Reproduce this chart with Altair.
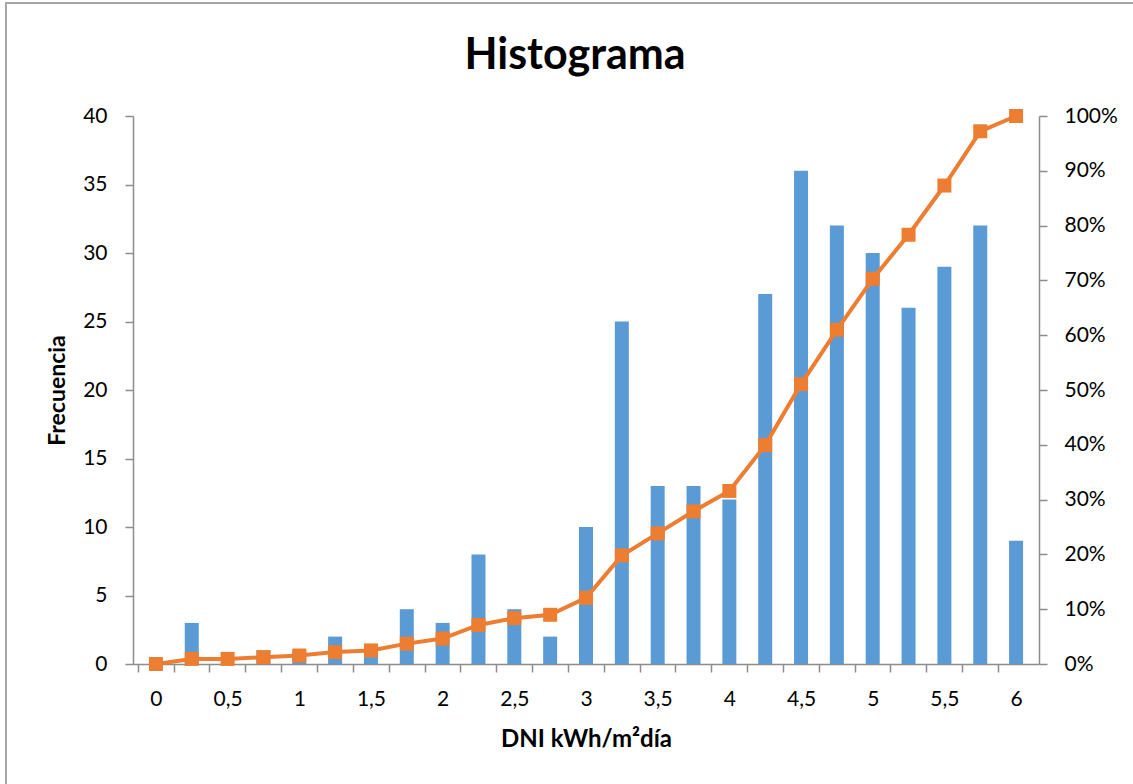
import altair as alt
import pandas as pd

# DNI bin centres (kWh/m2 día)
bins = [0, 0.25, 0.5, 0.75, 1, 1.25, 1.5, 1.75, 2, 2.25, 2.5, 2.75, 3,
        3.25, 3.5, 3.75, 4, 4.25, 4.5, 4.75, 5, 5.25, 5.5, 5.75, 6]
# Frecuencia per bin
freq = [0, 3, 0, 1, 1, 2, 1, 4, 3, 8, 4, 2, 10,
        25, 13, 13, 12, 27, 36, 32, 30, 26, 29, 32, 9]
# % acumulado
cum_pct = [0, 0.93, 0.93, 1.24, 1.55, 2.17, 2.48, 3.72, 4.64, 7.12, 8.36, 8.98, 12.07,
           19.81, 23.84, 27.86, 31.58, 39.94, 51.08, 60.99, 70.28, 78.33, 87.31, 97.21, 100]

x_ticks = bins + [6.25]
y_left_ticks = [0, 5, 10, 15, 20, 25, 30, 35, 40]
y_right_ticks = [0, 10, 20, 30, 40, 50, 60, 70, 80, 90, 100]

df = pd.DataFrame({"bin": bins, "freq": freq, "cum": cum_pct})

FONT = "Lato"
AXC = "#8C8C8C"
W, H = 906, 548
step_px = W / 6.25 * 0.125

xscale = alt.Scale(domain=[-0.125, 6.125], nice=False, zero=False)
xaxis = alt.Axis(
    values=x_ticks,
    labelExpr="(datum.value * 2) % 1 == 0 && datum.value <= 6 ? replace(format(datum.value, ''), '.', ',') : ''",
    tickOffset=-step_px, labelOffset=step_px,
    title="DNI kWh/m²día", titleY=75, titleBaseline="middle", titleFontSize=24,
    grid=False, tickSize=8, labelPadding=16, labelFlush=False, labelOverlap=False,
)

pct_axis = alt.Axis(values=y_right_ticks, orient="right", title=None,
                    labelExpr="datum.value + '%'", grid=False,
                    tickSize=8, labelPadding=17)
pct_scale = alt.Scale(domain=[0, 100], nice=False)

base = alt.Chart(df)

bars = base.mark_bar(size=14, color="#5B9BD5").encode(
    x=alt.X("bin:Q", scale=xscale, axis=xaxis),
    y=alt.Y("freq:Q", scale=alt.Scale(domain=[0, 40], nice=False),
            axis=alt.Axis(values=y_left_ticks, title="Frecuencia", grid=False,
                          tickSize=8, labelPadding=18, titleX=-76, titleBaseline="middle")),
)

line = base.mark_line(color="#ED7D31", strokeWidth=4).encode(
    x=alt.X("bin:Q", scale=xscale, axis=xaxis),
    y=alt.Y("cum:Q", scale=pct_scale, axis=pct_axis),
)
pts = base.mark_square(size=196, color="#ED7D31", opacity=1).encode(
    x=alt.X("bin:Q", scale=xscale, axis=xaxis),
    y=alt.Y("cum:Q", scale=pct_scale, axis=pct_axis),
)

frame_df = pd.DataFrame({"a": [0]})
border_left = alt.Chart(frame_df).mark_rule(color="#A6A6A6", strokeWidth=2, clip=False).encode(
    x=alt.value(-127), y=alt.value(-113), y2=alt.value(668))
border_top = alt.Chart(frame_df).mark_rule(color="#A6A6A6", strokeWidth=2, clip=False).encode(
    x=alt.value(-128), x2=alt.value(1000), y=alt.value(-113))

right = alt.layer(line, pts)
chart = alt.layer(bars, right, border_left, border_top).resolve_scale(y="independent").properties(
    width=W, height=H,
    title=alt.TitleParams("Histograma", fontSize=43, font=FONT, fontWeight="bold",
                          anchor="middle", frame="group", dx=-11, offset=-76,
                          color="#000000"),
    autosize=alt.AutoSizeParams(type="none"),
    padding={"left": 133, "top": 116, "right": 94, "bottom": 120},
    background="white",
).configure_view(stroke=None).configure_axis(
    domainColor=AXC, tickColor=AXC, domainWidth=1.5, tickWidth=1.5,
    labelFont=FONT, labelFontSize=21, labelColor="#000000",
    titleFont=FONT, titleFontSize=23, titleFontWeight="bold", titleColor="#000000",
)

chart.save("out.html", embed_options={"renderer": "svg", "actions": False})
